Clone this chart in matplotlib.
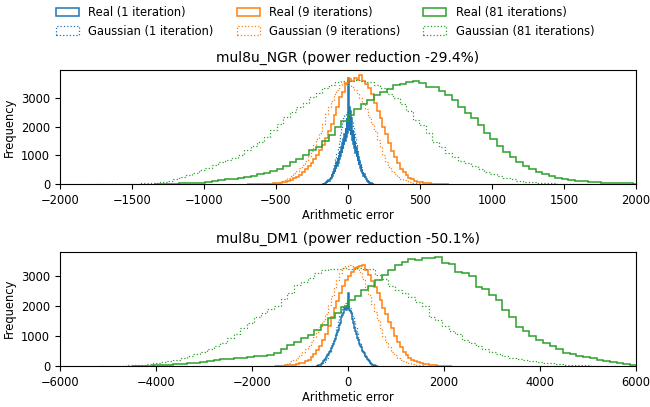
import numpy as np
import matplotlib
matplotlib.use("Agg")
import matplotlib.pyplot as plt
from matplotlib.patches import Patch

# ---- panel 1: mul8u_NGR ----
ngr_title = "mul8u_NGR (power reduction -29.4%)"
ngr_xlim = (-2000, 2000)

# (first bin edge, bin width, counts)
ngr_real_1 = (-180, 4, [
    5, 10, 8, 18, 15, 30, 25, 55, 45, 90, 75, 130, 110, 190, 160, 260, 220, 340, 280, 420,
    350, 520, 430, 640, 530, 760, 640, 900, 750, 1020, 860, 1150, 980, 1300, 1100, 1450, 1230, 1580, 1350, 1750,
    1500, 1950, 1650, 2300, 1800, 3700, 1900, 2700, 1850, 2550, 1700, 2300, 1550, 1900, 1400, 1750, 1250, 1500, 1100, 1300,
    950, 1120, 800, 950, 680, 800, 560, 660, 460, 540, 370, 430, 290, 340, 220, 260, 160, 190, 115, 135,
    80, 90, 50, 55, 30, 30, 15, 15, 8, 5])
ngr_gauss_1 = (-200, 8, [
    5, 8, 12, 20, 30, 45, 70, 100, 150, 210, 290, 400, 530, 690, 870, 1070, 1290, 1520, 1750, 1960,
    2150, 2300, 2420, 2490, 2520, 2500, 2440, 2330, 2190, 2010, 1810, 1590, 1370, 1150, 950, 770, 610, 470, 350, 260,
    185, 130, 90, 60, 40, 25, 16, 10, 6, 4])
ngr_real_9 = (-700, 20, [
    2, 2, 3, 4, 5, 7, 9, 12, 16, 22, 30, 40, 55, 80, 110, 150, 200, 260, 330, 420,
    520, 620, 740, 880, 1030, 1200, 1380, 1600, 1850, 2100, 2400, 2700, 3050, 3230, 3550, 3680, 3600, 3720, 3650, 3800,
    3600, 3500, 3350, 3150, 2850, 2550, 2300, 2000, 1740, 1450, 1150, 950, 720, 540, 420, 300, 220, 160, 110, 80,
    58, 42, 30, 22, 15, 10, 7, 5, 3, 2])
ngr_gauss_9 = (-600, 20, [
    3, 5, 8, 12, 18, 40, 70, 100, 150, 210, 280, 370, 460, 560, 680, 820, 980, 1150, 1350, 1560,
    1800, 2100, 2450, 2700, 2900, 3150, 3300, 3450, 3550, 3500, 3450, 3380, 3300, 3180, 3000, 2820, 2620, 2350, 2100, 1850,
    1550, 1280, 1000, 780, 600, 460, 350, 260, 190, 135, 95, 65, 45, 30, 20, 12, 8, 5, 3, 2])
ngr_real_81 = (-1350, 45, [
    5, 6, 10, 15, 22, 30, 40, 50, 75, 100, 130, 160, 185, 215, 245, 290, 345, 400, 460, 530,
    640, 760, 890, 1030, 1200, 1300, 1520, 1700, 1980, 2200, 2430, 2640, 2800, 2940, 3100, 3220, 3330, 3450, 3500, 3560,
    3600, 3530, 3400, 3380, 3250, 3120, 2950, 2700, 2500, 2320, 2050, 1800, 1570, 1330, 1120, 930, 760, 620, 510, 410,
    340, 280, 225, 185, 150, 120, 95, 78, 62, 50, 40, 32, 25, 18, 12])
ngr_gauss_81 = (-1755, 45, [
    2, 3, 4, 5, 7, 10, 15, 25, 35, 50, 70, 120, 180, 250, 320, 400, 480, 560, 650, 760,
    830, 920, 1030, 1180, 1330, 1470, 1650, 1900, 2100, 2350, 2520, 2700, 2850, 3050, 3200, 3350, 3460, 3560, 3620, 3600,
    3650, 3620, 3560, 3480, 3350, 3160, 3000, 2800, 2550, 2250, 2050, 1800, 1480, 1300, 1100, 950, 800, 720, 630, 520,
    430, 340, 270, 210, 160, 120, 85, 60, 42, 30, 20, 14, 9, 6, 4, 3, 2, 1])

# ---- panel 2: mul8u_DM1 ----
dm1_title = "mul8u_DM1 (power reduction -50.1%)"
dm1_xlim = (-6000, 6000)

dm1_real_1 = (-660, 15, [
    5, 8, 12, 20, 28, 40, 55, 75, 100, 140, 160, 200, 230, 270, 300, 350, 390, 420, 470, 510,
    560, 610, 650, 720, 770, 830, 900, 980, 1040, 1120, 1200, 1270, 1350, 1450, 1520, 1620, 1700, 1760, 1850, 1900,
    1960, 1870, 2050, 1950, 2420, 1920, 1880, 1820, 1760, 1650, 1560, 1450, 1360, 1260, 1160, 1070, 990, 920, 850, 800,
    740, 680, 620, 560, 510, 470, 430, 390, 340, 300, 260, 220, 190, 160, 130, 100, 75, 55, 38, 25,
    15, 10, 6, 3])
dm1_gauss_1 = (-750, 30, [
    4, 7, 12, 19, 30, 45, 65, 100, 140, 200, 270, 360, 475, 605, 760, 935, 1110, 1310, 1490, 1675,
    1830, 1960, 2040, 2100, 2090, 2050, 1950, 1835, 1670, 1500, 1300, 1120, 930, 765, 605, 475, 360, 270, 195, 140,
    100, 65, 45, 30, 19, 12, 7, 4])
dm1_real_9 = (-1500, 60, [
    5, 8, 12, 18, 25, 35, 45, 60, 80, 105, 150, 210, 290, 390, 520, 680, 860, 1080, 1330, 1620,
    1920, 2180, 2420, 2680, 2880, 3000, 3150, 3260, 3320, 3350, 3360, 3200, 3040, 2850, 2650, 2450, 2200, 1950, 1720, 1480,
    1250, 1000, 800, 620, 470, 360, 270, 205, 160, 120, 90, 65, 48, 35, 25, 17, 11, 7, 4, 3, 2])
dm1_gauss_9 = (-1800, 60, [
    3, 5, 7, 10, 15, 22, 32, 45, 70, 105, 150, 210, 280, 370, 460, 560, 670, 800, 950, 1120,
    1300, 1500, 1750, 2030, 2320, 2600, 2880, 3100, 3270, 3350, 3360, 3340, 3300, 3250, 3150, 2900, 2650, 2370, 2080, 1800,
    1520, 1250, 1000, 790, 620, 480, 370, 280, 210, 155, 110, 80, 55, 38, 26, 18, 12, 8, 5, 3])
dm1_real_81 = (-4480, 140, [
    5, 8, 12, 18, 26, 36, 50, 68, 88, 110, 140, 165, 190, 215, 240, 260, 280, 300, 320, 345,
    370, 440, 560, 700, 800, 920, 1040, 1200, 1380, 1600, 1770, 1980, 2200, 2330, 2520, 2680, 2880, 3050, 3200, 3380,
    3470, 3560, 3540, 3600, 3620, 3640, 3450, 3420, 3150, 3120, 3020, 2650, 2580, 2360, 2200, 1860, 1640, 1310, 1150, 1000,
    880, 780, 650, 560, 440, 390, 330, 300, 250, 210, 180, 120, 90, 50, 30, 15])
dm1_gauss_81 = (-5180, 140, [
    3, 5, 8, 12, 18, 28, 40, 60, 85, 115, 160, 210, 270, 330, 400, 470, 560, 660, 780, 920,
    1080, 1250, 1430, 1620, 1780, 1900, 2000, 2250, 2450, 2700, 2800, 2950, 3100, 3200, 3250, 3240, 3260, 3250, 3260, 3240,
    3240, 3050, 2900, 2680, 2550, 2450, 2300, 2150, 2000, 1650, 1530, 1330, 1180, 1050, 880, 760, 650, 560, 470, 400,
    330, 280, 230, 190, 155, 125, 100, 80, 62, 45, 32, 22, 14, 8])

iterations = [1, 9, 81]
colors = ["tab:blue", "tab:orange", "tab:green"]

panels = [
    (ngr_title, ngr_xlim, [ngr_real_1, ngr_real_9, ngr_real_81], [ngr_gauss_1, ngr_gauss_9, ngr_gauss_81]),
    (dm1_title, dm1_xlim, [dm1_real_1, dm1_real_9, dm1_real_81], [dm1_gauss_1, dm1_gauss_9, dm1_gauss_81]),
]


def draw_hist(ax, series, **kw):
    start, width, counts = series
    edges = start + width * np.arange(len(counts) + 1)
    return ax.stairs(counts, edges, **kw)


plt.rcParams['font.size'] = 8.3
fig = plt.figure(figsize=(6.5, 4.07), dpi=100)
ax1 = fig.add_axes([0.0923, 0.548, 0.886, 0.28])
ax2 = fig.add_axes([0.0923, 0.101, 0.886, 0.281])

for ax, (title, xlim, reals, gausses) in zip([ax1, ax2], panels):
    for col, real, gauss in zip(colors, reals, gausses):
        draw_hist(ax, real, color=col, linewidth=1.1)
        draw_hist(ax, gauss, color=col, linewidth=0.9, linestyle=":")
    ax.set_xlim(*xlim)
    ax.set_ylim(bottom=0)
    ax.set_title(title, fontsize=10)
    ax.set_xlabel("Arithmetic error", labelpad=2)
    ax.set_ylabel("Frequency")

# legend with rectangle handles like hist(histtype='step')
handles = []
for it, col in zip(iterations, colors):
    word = "iteration" if it == 1 else "iterations"
    handles.append(Patch(fill=False, edgecolor=col, linewidth=1.1,
                         label="Real (%d %s)" % (it, word)))
    handles.append(Patch(fill=False, edgecolor=col, linewidth=0.9, linestyle=":",
                         label="Gaussian (%d %s)" % (it, word)))

fig.legend(handles=handles, loc="upper center", ncol=3, frameon=False,
           bbox_to_anchor=(0.5, 1.0), borderaxespad=0.1)

fig.savefig("out.png", dpi=100)
